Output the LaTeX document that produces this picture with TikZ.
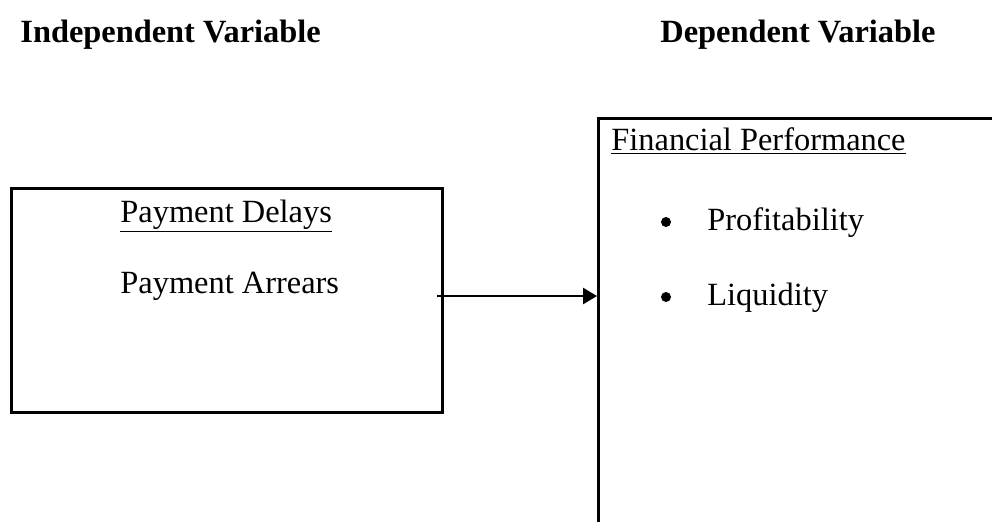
\documentclass[tikz,border=0pt]{standalone}
\usepackage{fontspec}
\setmainfont{Liberation Serif}
\usetikzlibrary{arrows.meta}

\begin{document}
\begin{tikzpicture}[x=0.5pt,y=-0.5pt,
    every node/.style={font=\fontsize{16.2}{19}\selectfont,inner sep=0pt},
    head/.style={font=\fontsize{16.2}{19}\selectfont\bfseries,anchor=base west},
    item/.style={anchor=base west},
    frame/.style={draw,line width=1.3pt,anchor=north west},
    dot/.style={circle,fill,minimum size=5pt},
    arr/.style={line width=1.3pt,-{Triangle[length=7pt,width=8pt]}}]
      \useasboundingbox (0,0) rectangle (992,521);
      % headings
      \node[head] (indep) at (20,42) {Independent Variable};
      \node[head] (dep) at (660,42) {Dependent Variable};
      % boxes
      \node[frame,minimum width=215.5pt,minimum height=112pt] (delays) at (10,187) {};
      \node[frame,minimum width=260pt,minimum height=260pt] (perf) at (597,117) {};
      \node[item] (delaystitle) at (120,222) {\underline{Payment Delays}};
      \node[item] (arrears) at (120,293) {Payment Arrears};
      \node[item] (perftitle) at (611,150) {\underline{Financial Performance}};
      \node[item] (profit) at (707,230) {Profitability};
      \node[item] (liquid) at (707,305) {Liquidity};
      \node[dot] (bulletA) at (666,222) {};
      \node[dot] (bulletB) at (666,297) {};
      % link
      \coordinate (arrstart) at (437,296);
      \draw[arr] (arrstart) -- (arrstart -| perf.west);
    \end{tikzpicture}
\end{document}
